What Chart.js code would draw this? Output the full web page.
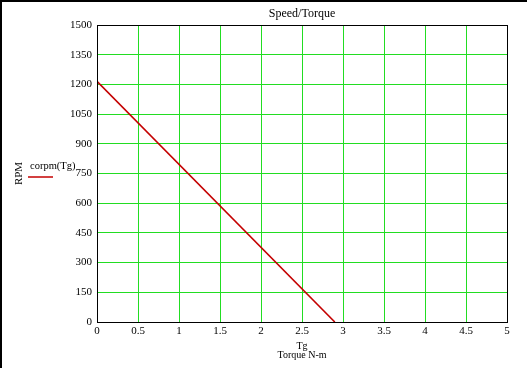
<!DOCTYPE html>
<html lang="en">
<head>
  <meta charset="UTF-8">
  <title>Speed/Torque</title>
  <style>
    body { margin: 0; background: #fff; }
    #chart { display: block; }
  </style>
</head>
<body>
<canvas id="chart" width="527" height="368"></canvas>

<script src="https://cdn.jsdelivr.net/npm/chart.js"></script>
<script>
  // values
  const torque = [0, 2.9];          // Tg, N-m
  const rpm = [1215, 0];            // corpm(Tg)
  const seriesName = 'corpm(Tg)';

  const serif = 'Liberation Serif';
  const gridGreen = '#22dd22';
  const traceRed = '#c40000';

  // black frame round the plot and the picture's left/top edge
  const framePlugin = {
    id: 'frame',
    beforeDraw(chart) {
      const ctx = chart.ctx;
      ctx.save();
      ctx.fillStyle = '#fff';
      ctx.fillRect(0, 0, chart.width, chart.height);
      ctx.fillStyle = '#000';
      ctx.fillRect(0, 0, chart.width, 2);
      ctx.fillRect(0, 0, 2, chart.height);
      ctx.restore();
    },
    afterDraw(chart) {
      const a = chart.chartArea;
      const ctx = chart.ctx;
      ctx.save();
      ctx.strokeStyle = '#000';
      ctx.lineWidth = 1;
      ctx.strokeRect(Math.round(a.left) + 0.5, Math.round(a.top) + 0.5,
        Math.round(a.right - a.left), Math.round(a.bottom - a.top));
      ctx.restore();
    }
  };

  // legend sits left of the axis, under the name of the trace
  const sideLegend = {
    id: 'sideLegend',
    afterDraw(chart) {
      const ds = chart.data.datasets[0];
      const ctx = chart.ctx;
      ctx.save();
      ctx.font = '10.5px "' + serif + '"';
      ctx.fillStyle = '#000';
      ctx.textBaseline = 'middle';
      ctx.fillText(ds.label, 30, 166);
      ctx.strokeStyle = ds.borderColor;
      ctx.lineWidth = 1.5;
      ctx.beginPath();
      ctx.moveTo(28, 177);
      ctx.lineTo(53, 177);
      ctx.stroke();
      ctx.restore();
    }
  };

  const ctx = document.getElementById('chart').getContext('2d');
  new Chart(ctx, {
    type: 'scatter',
    data: {
      datasets: [{
        label: seriesName,
        data: torque.map((t, i) => ({ x: t, y: rpm[i] })),
        showLine: true,
        borderColor: traceRed,
        backgroundColor: traceRed,
        borderWidth: 1.6,
        pointRadius: 0
      }]
    },
    options: {
      responsive: false,
      devicePixelRatio: 1,
      animation: false,
      layout: { padding: { left: 0, top: 0, bottom: 0, right: 20 } },
      plugins: {
        legend: { display: false },
        tooltip: { enabled: false },
        title: {
          display: true,
          text: 'Speed/Torque',
          fullSize: false,
          color: '#000',
          font: { family: serif, size: 12, weight: 'normal', lineHeight: '14px' },
          padding: { top: 7, bottom: 4 }
        }
      },
      scales: {
        x: {
          type: 'linear',
          min: 0,
          max: 5,
          afterFit(scale) { scale.height = 46; },
          ticks: {
            stepSize: 0.5,
            autoSkip: false,
            maxRotation: 0,
            padding: 3,
            color: '#000',
            font: { family: serif, size: 11 },
            callback: v => String(v)
          },
          grid: { color: gridGreen, drawTicks: false },
          border: { color: '#000', width: 1 },
          title: {
            display: true,
            text: ['Tg', 'Torque N-m'],
            color: '#000',
            font: { family: serif, size: 10, lineHeight: '9px' },
            padding: { top: 0, bottom: 8 }
          }
        },
        y: {
          type: 'linear',
          min: 0,
          max: 1500,
          afterFit(scale) { scale.width = 97; },
          ticks: {
            stepSize: 150,
            autoSkip: false,
            padding: 5,
            color: '#000',
            font: { family: serif, size: 11 },
            callback: v => String(v)
          },
          grid: { color: gridGreen, drawTicks: false },
          border: { color: '#000', width: 1 },
          title: {
            display: true,
            text: 'RPM',
            color: '#000',
            font: { family: serif, size: 11 },
            padding: { top: 13, bottom: 0 }
          }
        }
      }
    },
    plugins: [framePlugin, sideLegend]
  });
</script>
</body>
</html>
